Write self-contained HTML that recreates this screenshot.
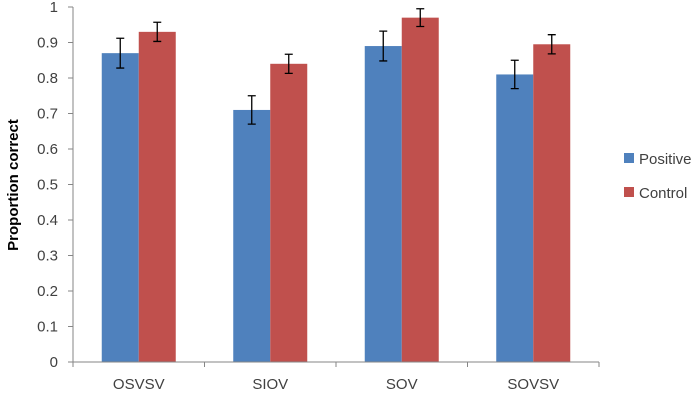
<!DOCTYPE html>
<html><head><meta charset="utf-8"><style>
body{margin:0;background:#fff}
svg{display:block;font-family:"Liberation Sans",sans-serif}
</style></head><body>
<svg id="chart" width="700" height="403">
<text transform="translate(18,185) rotate(-90)" text-anchor="middle" font-size="15" font-weight="bold" fill="#000">Proportion correct</text>
<g id="plot"></g>
<g>
<rect x="624" y="153" width="10" height="10" fill="#4f81bd"/>
<text x="639" y="164" font-size="15" fill="#404040">Positive</text>
<rect x="624" y="187" width="10" height="10" fill="#c0504d"/>
<text x="639" y="198" font-size="15" fill="#404040">Control</text>
</g>
</svg>
<script>
const categories=["OSVSV","SIOV","SOV","SOVSV"];
const positive=[0.87,0.71,0.89,0.81];
const control=[0.93,0.84,0.97,0.895];
const positiveErr=[0.042,0.04,0.042,0.04];
const controlErr=[0.027,0.027,0.025,0.027];
const yTicks=[0,0.1,0.2,0.3,0.4,0.5,0.6,0.7,0.8,0.9,1];

const NS="http://www.w3.org/2000/svg";
const g=document.getElementById('plot');
const x0=73,x1=599,yb=362,yt=7;
const bw=(x1-x0)/categories.length;
const y=v=>yb-(v-0)*(yb-yt)/1;
function mk(t,a,txt){const e=document.createElementNS(NS,t);for(const k in a)e.setAttribute(k,a[k]);if(txt!=null)e.textContent=txt;g.appendChild(e);return e;}
let ax=mk('line',{x1:x0,y1:yt,x2:x0,y2:yb,stroke:'#868686'});


yTicks.forEach(v=>{
 let t=mk('line',{x1:x0-5,x2:x0,y1:y(v),y2:y(v),stroke:'#868686'});
 
 
 let l=mk('text',{x:x0-15,y:y(v)+5,'text-anchor':'end','font-size':'15',fill:'#404040'},String(v));
 
 
});
categories.forEach((c,i)=>{
 const cx=x0+bw*(i+0.5);
 const w=37;
 [[positive,positiveErr,'#4f81bd',cx-w,'positive'],[control,controlErr,'#c0504d',cx,'control']].forEach(([vals,errs,col,bx,nm])=>{
  const v=vals[i];
  let r=mk('rect',{x:bx,y:y(v),width:w,height:yb-y(v),fill:col});
  
  
  const mx=bx+w/2,e=errs[i];
  let p=mk('path',{d:`M${mx},${y(v+e)}V${y(v-e)}M${mx-4},${y(v+e)}H${mx+4}M${mx-4},${y(v-e)}H${mx+4}`,stroke:'#000','stroke-width':1.3,fill:'none'});
  
  
 });
 let l=mk('text',{x:cx,y:yb+27,'text-anchor':'middle','font-size':'15',fill:'#404040'},c);
 
 
});
for(let i=0;i<=categories.length;i++){
 let t=mk('line',{x1:x0+bw*i,x2:x0+bw*i,y1:yb,y2:yb+5,stroke:'#868686'});
 
 
}
let xa=mk('line',{x1:x0,y1:yb,x2:x1,y2:yb,stroke:'#868686'});


</script>
</body></html>
